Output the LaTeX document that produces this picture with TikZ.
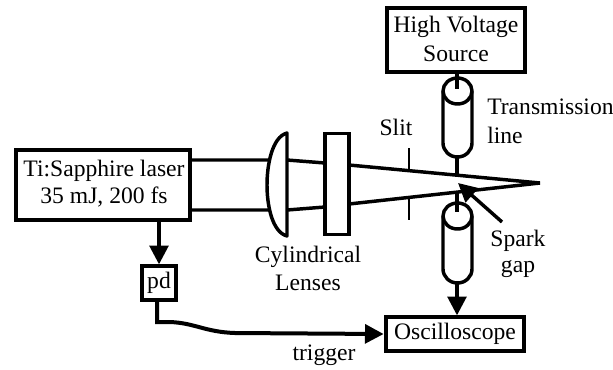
\documentclass[tikz,border=0pt]{standalone}
\usepackage{fontspec}
\setmainfont{Liberation Serif}
\usetikzlibrary{arrows.meta}
\tikzset{
  box/.style={draw=black,line width=3pt,fill=white,inner sep=0pt,align=center},
  lbl/.style={inner sep=0pt,align=center,font=\fontsize{17.7}{20}\selectfont},
  beam/.style={line width=2.6pt},
  wire/.style={line width=2.6pt},
  tip/.style={-{Triangle[length=14pt,width=14pt]}},
  cyl/.style={line width=2.6pt,fill=white},
}
\begin{document}
\begin{tikzpicture}[x=0.75pt,y=-0.75pt]
\useasboundingbox (0,0) rectangle (613,369);
% beam
\coordinate (tipb) at (540,183);
\draw[beam] (192,160) -- (287,160) -- (325,163);
\draw[beam] (192,210) -- (287,210) -- (325,207);
\draw[beam,line join=bevel] (349,165) -- (tipb) -- (349,204);
% lens
\draw[cyl,line join=round] (287,133) .. controls (272,137) and (267,165) .. (267,185) .. controls (267,205) and (272,232) .. (287,236) -- cycle;
% plate
\node[draw=black,line width=2.6pt,fill=white,minimum width=18pt,minimum height=76pt,inner sep=0pt] (plate) at (337,184) {};
% slit
\coordinate (s1) at (409,148); \coordinate (s2) at (409,172);
\coordinate (s3) at (409,197); \coordinate (s4) at (409,220);
\draw[line width=1.5pt] (s1) -- (s2) (s3) -- (s4);
% boxes
\node[box,minimum width=104pt,minimum height=48pt] (hv) at (456,39.5) {};
\node[lbl] at (456,27) {High Voltage};
\node[lbl] at (456,54) {Source};
\node[box,minimum width=131pt,minimum height=52pt] (laser) at (103,185) {};
\node[lbl] at (104,171) {Ti:Sapphire laser};
\node[lbl] at (104,197) {35 mJ, 200 fs};
\node[box,minimum width=26pt,minimum height=25pt,font=\fontsize{17.7}{20}\selectfont] (pd) at (159,283) {pd};
\node[box,minimum width=104pt,minimum height=25pt,font=\fontsize{17.7}{20}\selectfont] (osc) at (455,334) {Oscilloscope};
% upper line
\coordinate (u1) at (457,175);
\coordinate (l1) at (457,191);
\draw[cyl] (443,91) -- (443,143) arc[start angle=180,end angle=0,x radius=14.5,y radius=14] -- (472,91) arc[start angle=0,end angle=-180,x radius=14.5,y radius=13] -- cycle;
\draw[line width=2.6pt] (443,91) arc[start angle=180,end angle=0,x radius=14.5,y radius=13];
\draw[wire] (457,72) -- (457,89);
\draw[wire] (457,157) -- (u1);
% lower line
\draw[cyl] (443,216) -- (443,269) arc[start angle=180,end angle=0,x radius=14.5,y radius=14] -- (472,216) arc[start angle=0,end angle=-180,x radius=14.5,y radius=13] -- cycle;
\draw[line width=2.6pt] (443,216) arc[start angle=180,end angle=0,x radius=14.5,y radius=13];
\draw[wire] (l1) -- (457,212);
\coordinate (c2) at (457,283);
\draw[wire,tip] (c2) -- (osc.north -| c2);
% spark arrow
\coordinate (sa) at (502,222);
\coordinate (sb) at (458,183);
\draw[line width=2.6pt,tip] (sa) -- (sb);
% laser->pd
\draw[wire,tip] (laser.south -| pd) -- (pd.north);
% trigger
\coordinate (w1) at (157,322);
\draw[line width=3pt,tip] (pd.south -| w1) -- (w1) -- (170,322) .. controls (195,323) and (205,332) .. (235,333) -- (osc.west);
% labels
\node[lbl,anchor=west] at (487,107) {Transmission};
\node[lbl,anchor=west] at (487,135) {line};
\node[lbl] at (396,127) {Slit};
\node[lbl] at (308,257) {Cylindrical};
\node[lbl] at (308,283) {Lenses};
\node[lbl] at (518,241) {Spark};
\node[lbl] at (518,269) {gap};
\node[lbl] at (324,355) {trigger};
\end{tikzpicture}
\end{document}
